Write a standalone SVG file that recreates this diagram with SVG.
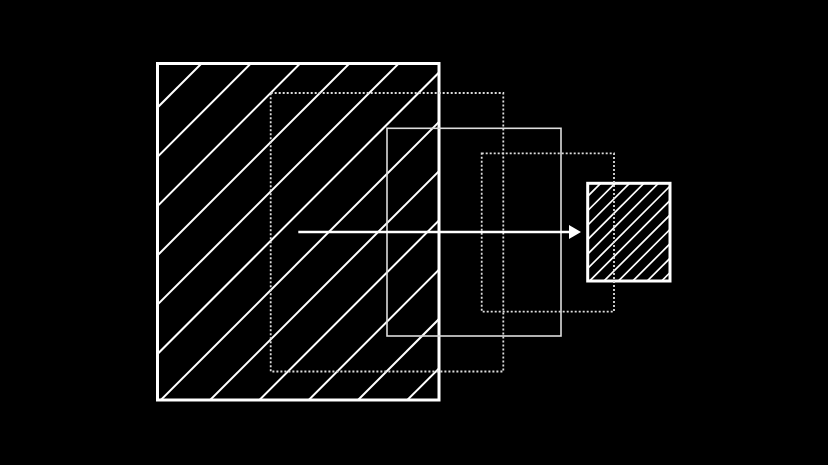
<svg xmlns="http://www.w3.org/2000/svg" width="828" height="465" viewBox="0 0 828 465">
  <style>
    .frame { fill: none; stroke: #ffffff; stroke-width: 3; }
    .hatch { stroke: #ffffff; stroke-width: 2; fill: none; }
    .hatch-s { stroke: #ffffff; stroke-width: 1.7; fill: none; }
    .dotted { fill: none; stroke: #dddddd; stroke-width: 1.8; stroke-dasharray: 2 2; }
    .thin { fill: none; stroke: #dddddd; stroke-width: 1.6; }
    .conn { stroke: #ffffff; stroke-width: 2.6; fill: none; }
  </style>
  <defs>
    <clipPath id="clipBig"><rect x="157.5" y="63.5" width="281.5" height="336.5"/></clipPath>
    <clipPath id="clipSmall"><rect x="587.7" y="183.3" width="82.3" height="97.7"/></clipPath>
    <marker id="arrowhead" markerWidth="12" markerHeight="14" refX="0" refY="7" orient="auto" markerUnits="userSpaceOnUse">
      <path d="M0,0 L12,7 L0,14 Z" fill="#ffffff"/>
    </marker>
  </defs>
  <rect x="0" y="0" width="828" height="465" fill="#000000"/>

  <g id="big-square">
    <g clip-path="url(#clipBig)" class="hatch">
      <line x1="-155" y1="420" x2="225" y2="40"/>
      <line x1="-105.7" y1="420" x2="274.3" y2="40"/>
      <line x1="-56.4" y1="420" x2="323.6" y2="40"/>
      <line x1="-7.1" y1="420" x2="372.9" y2="40"/>
      <line x1="42.2" y1="420" x2="422.2" y2="40"/>
      <line x1="91.5" y1="420" x2="471.5" y2="40"/>
      <line x1="140.8" y1="420" x2="520.8" y2="40"/>
      <line x1="190.1" y1="420" x2="570.1" y2="40"/>
      <line x1="239.4" y1="420" x2="619.4" y2="40"/>
      <line x1="288.7" y1="420" x2="668.7" y2="40"/>
      <line x1="338" y1="420" x2="718" y2="40"/>
      <line x1="387.3" y1="420" x2="767.3" y2="40"/>
    </g>
    <rect class="frame" x="157.5" y="63.5" width="281.5" height="336.5"/>
  </g>

  <g id="small-square">
    <g clip-path="url(#clipSmall)" class="hatch-s">
      <line x1="494" y1="290" x2="604" y2="180"/>
      <line x1="508.42" y1="290" x2="618.42" y2="180"/>
      <line x1="522.84" y1="290" x2="632.84" y2="180"/>
      <line x1="537.26" y1="290" x2="647.26" y2="180"/>
      <line x1="551.68" y1="290" x2="661.68" y2="180"/>
      <line x1="566.1" y1="290" x2="676.1" y2="180"/>
      <line x1="580.52" y1="290" x2="690.52" y2="180"/>
      <line x1="594.94" y1="290" x2="704.94" y2="180"/>
      <line x1="609.36" y1="290" x2="719.36" y2="180"/>
      <line x1="623.78" y1="290" x2="733.78" y2="180"/>
      <line x1="638.2" y1="290" x2="748.2" y2="180"/>
      <line x1="652.62" y1="290" x2="762.62" y2="180"/>
    </g>
    <rect class="frame" x="587.7" y="183.3" width="82.3" height="97.7"/>
  </g>

  <g id="frame-1">
    <rect class="dotted" x="270.7" y="93" width="232.6" height="278.5"/>
  </g>
  <g id="frame-2">
    <rect class="thin" x="387" y="128.3" width="174" height="207.7"/>
  </g>
  <g id="frame-3">
    <rect class="dotted" x="481.7" y="153.3" width="132.3" height="158.4"/>
  </g>

  <g id="connectors">
    <line class="conn" x1="298.3" y1="232" x2="569" y2="232" marker-end="url(#arrowhead)"/>
  </g>
</svg>
